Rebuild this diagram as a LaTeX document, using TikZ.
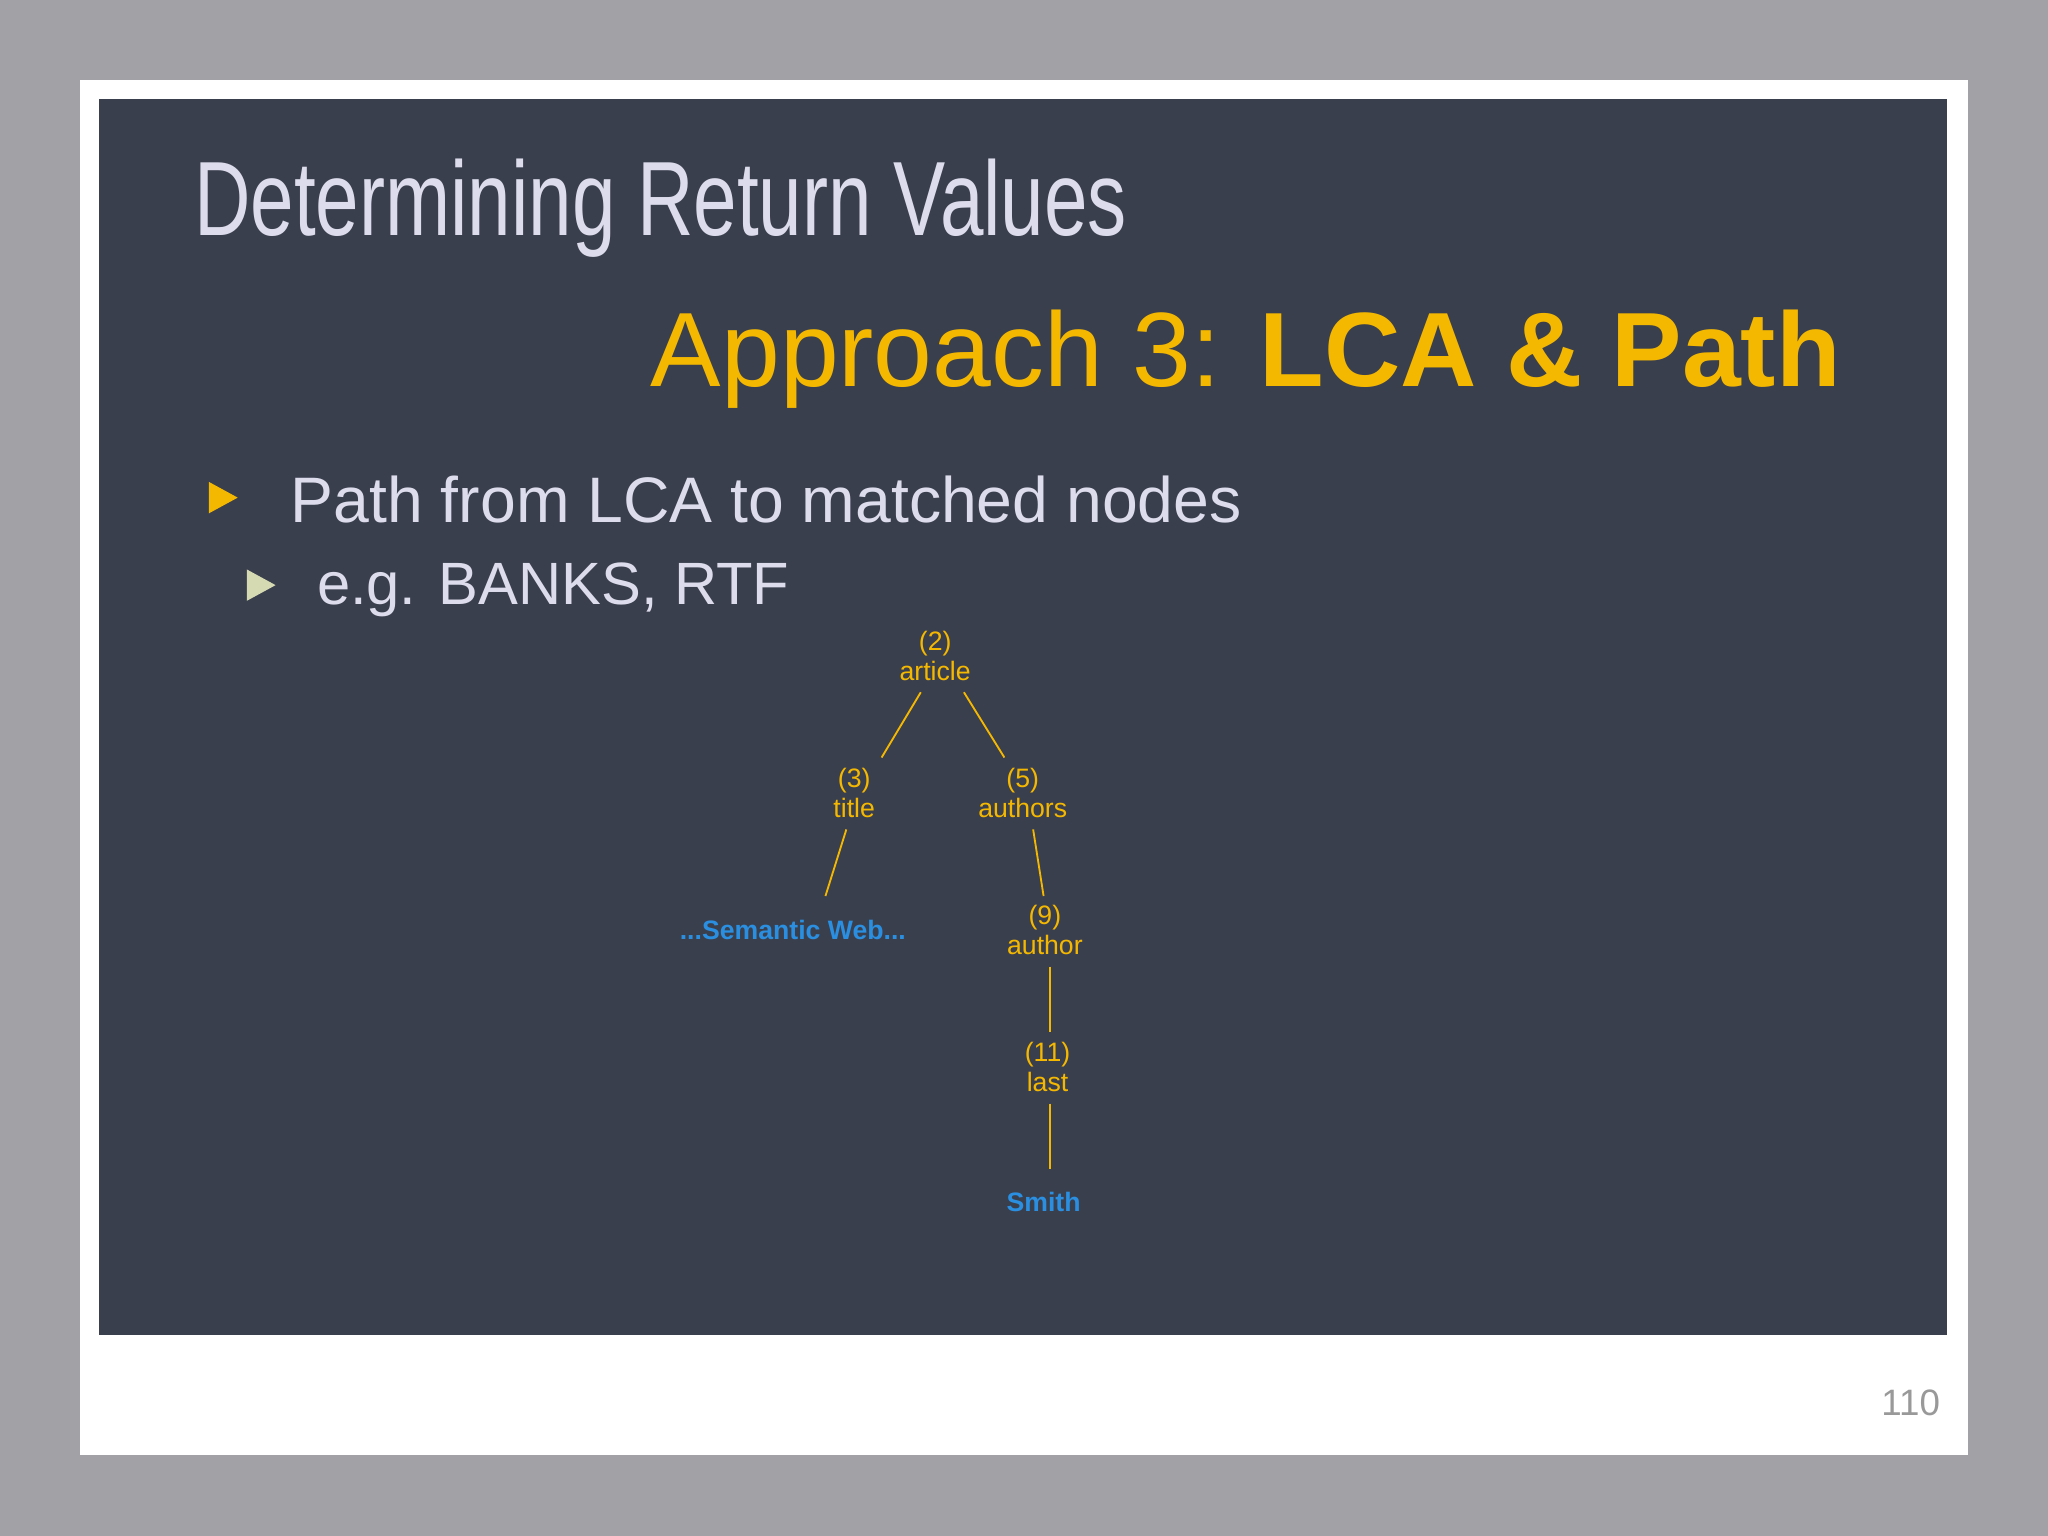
\documentclass[tikz,border=0pt]{standalone}
\usepackage{fontspec}
\setmainfont{Liberation Sans}
\newfontfamily\narrowfont[FakeStretch=0.74]{Liberation Sans}
\definecolor{bgg}{HTML}{A2A1A6}
\definecolor{panel}{HTML}{3A3F4E}
\definecolor{lite}{HTML}{DCDCEC}
\definecolor{orng}{HTML}{F5B800}
\definecolor{pale}{HTML}{D6DAB2}
\definecolor{blu}{HTML}{2A8FE0}
\begin{document}
\begin{tikzpicture}[x=0.01cm,y=-0.01cm,
  tn/.style={text=orng,font=\fontsize{5.8pt}{6.6pt}\selectfont,align=center,inner sep=0pt},
  leaf/.style={text=blu,font=\fontsize{5.8pt}{6.6pt}\selectfont\bfseries,inner sep=0pt},
  edge/.style={draw=orng,line width=0.4pt}]
\useasboundingbox (0,0) rectangle (1568,1176);
\fill[bgg] (0,0) rectangle (1568,1176);
\fill[white] (61,61) rectangle (1507,1114);
\fill[panel] (76,76) rectangle (1491,1022);
\node[anchor=base west,inner sep=0pt,text=lite,font=\narrowfont\fontsize{23pt}{26pt}\selectfont] (title) at (148,180) {Determining Return Values};
\node[anchor=base east,inner sep=0pt,text=orng,font=\fontsize{23pt}{26pt}\selectfont] (sub) at (1410,296) {Approach 3: \textbf{LCA \& Path}};
\fill[orng] (160,369) -- (182,381) -- (160,393) -- cycle;
\node[anchor=base west,inner sep=0pt,text=lite,font=\fontsize{14pt}{16pt}\selectfont] (b1) at (222,400) {Path from LCA to matched nodes};
\fill[pale] (189,436) -- (211,448) -- (189,460) -- cycle;
\node[anchor=base west,inner sep=0pt,text=lite,font=\fontsize{13pt}{15pt}\selectfont] (b2) at (242,463) {e.g. BANKS, RTF};
\node[tn] (art) at (716,502) {(2)\\article};
\node[tn] (tit) at (654,607) {(3)\\title};
\node[tn] (aus) at (783,607) {(5)\\authors};
\node[leaf] (sw) at (607,712) {...Semantic Web...};
\node[tn] (au) at (800,712) {(9)\\author};
\node[tn] (la) at (802,817) {(11)\\last};
\node[leaf] (sm) at (799,920) {Smith};
\draw[edge] ([shift={(-11,28)}]art.center) -- ([shift={(21,-27)}]tit.center);
\draw[edge] ([shift={(22,28)}]art.center) -- ([shift={(-14,-27)}]aus.center);
\draw[edge] ([shift={(-6,28)}]tit.center) -- ([shift={(25,-26)}]sw.center);
\draw[edge] ([shift={(8,28)}]aus.center) -- ([shift={(-1,-26)}]au.center);
\draw[edge] ([shift={(4,28)}]au.center) -- ([shift={(2,-27)}]la.center);
\draw[edge] ([shift={(2,28)}]la.center) -- ([shift={(5,-25)}]sm.center);
\node[anchor=base east,inner sep=0pt,text=gray!80,font=\fontsize{8pt}{9pt}\selectfont] (pg) at (1486,1084) {110};
\end{tikzpicture}
\end{document}
